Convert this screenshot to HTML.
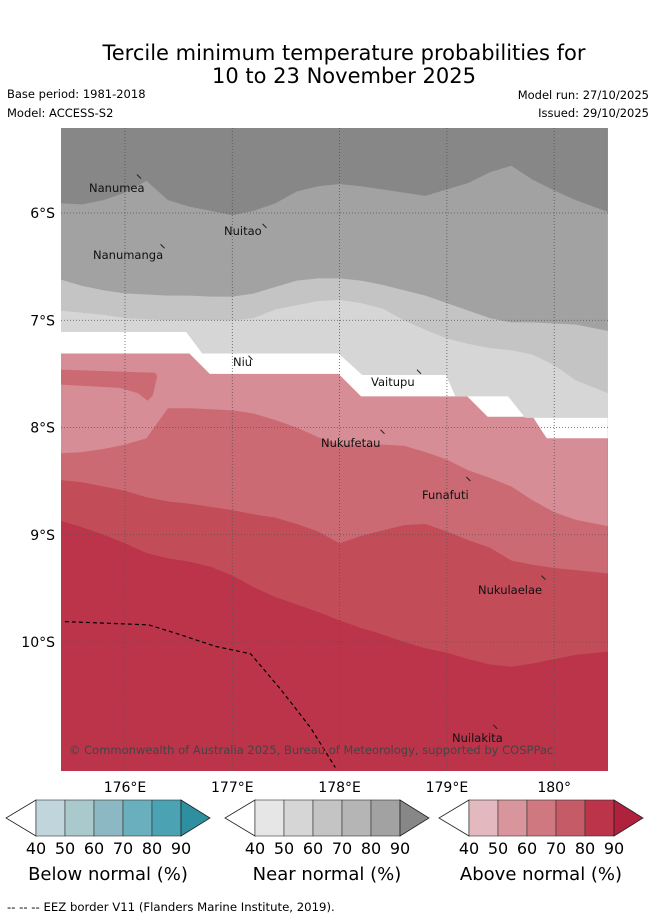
<!DOCTYPE html>
<html><head><meta charset="utf-8"><style>
body{margin:0;background:#fff;width:655px;height:919px;overflow:hidden;font-family:"DejaVu Sans","Liberation Sans",sans-serif}
svg{display:block;font-family:"DejaVu Sans","Liberation Sans",sans-serif}
</style></head><body>
<svg id="chart" width="655" height="919" xmlns="http://www.w3.org/2000/svg">
<text x="344" y="60" text-anchor="middle" font-size="21" fill="#000">Tercile minimum temperature probabilities for</text>
<text x="344" y="83" text-anchor="middle" font-size="21" fill="#000">10 to 23 November 2025</text>
<text x="7" y="98" font-size="11.5">Base period: 1981-2018</text>
<text x="7" y="117" font-size="11.5">Model: ACCESS-S2</text>
<text x="649" y="99" font-size="11.5" text-anchor="end">Model run: 27/10/2025</text>
<text x="649" y="117" font-size="11.5" text-anchor="end">Issued: 29/10/2025</text>
<defs><clipPath id="mapclip"><rect x="61" y="128" width="547" height="643"/></clipPath></defs>
<g id="map" clip-path="url(#mapclip)"></g>
<g id="axes"></g>
<g id="legends"></g>
<text x="7" y="911" font-size="11.7">--  --  -- EEZ border V11 (Flanders Marine Institute, 2019).</text>
</svg>
<script>
const lons=[175.4,175.6,175.8,176.0,176.2,176.4,176.6,176.8,177.0,177.2,177.4,177.6,177.8,178.0,178.2,178.4,178.6,178.8,179.0,179.2,179.4,179.6,179.8,180.0,180.2,180.5];
const nearB1=[5.91,5.92,5.88,5.81,5.70,5.88,5.94,5.98,6.02,5.98,5.91,5.80,5.75,5.73,5.75,5.78,5.81,5.84,5.78,5.72,5.62,5.56,5.69,5.79,5.88,5.99];
const nearB2=[6.62,6.68,6.72,6.75,6.76,6.77,6.77,6.78,6.78,6.75,6.69,6.63,6.61,6.61,6.63,6.67,6.72,6.77,6.84,6.91,6.98,7.02,7.02,7.03,7.04,7.10];
const nearB3=[6.91,6.93,6.95,6.98,6.99,7.00,7.00,7.00,7.00,6.98,6.90,6.86,6.82,6.81,6.84,6.89,7.00,7.09,7.17,7.22,7.26,7.28,7.32,7.42,7.56,7.68];
const maskTopLon=[175.40,176.57,176.72,177.99,178.21,178.99,179.08,179.57,179.73,180.50];
const maskTopLat=[7.11,7.11,7.31,7.31,7.51,7.51,7.71,7.71,7.91,7.91];
const maskBotLon=[175.40,176.60,176.79,177.99,178.20,179.19,179.38,179.80,179.93,180.50];
const maskBotLat=[7.31,7.31,7.50,7.50,7.71,7.71,7.90,7.90,8.10,8.10];
const aboveB2=[8.24,8.23,8.20,8.16,8.10,7.82,7.82,7.83,7.84,7.87,7.93,8.00,8.09,8.16,8.16,8.16,8.17,8.23,8.30,8.40,8.47,8.55,8.68,8.79,8.86,8.92];
const aboveB3=[8.49,8.51,8.55,8.59,8.65,8.69,8.71,8.74,8.77,8.81,8.84,8.90,8.97,9.08,9.01,8.96,8.91,8.90,8.97,9.05,9.12,9.24,9.28,9.31,9.33,9.36];
const aboveB4=[8.87,8.93,9.00,9.08,9.17,9.22,9.25,9.30,9.38,9.49,9.58,9.65,9.72,9.80,9.87,9.93,10.00,10.06,10.10,10.16,10.21,10.23,10.20,10.16,10.12,10.09];
const blobLon=[175.40,176.28,176.30,176.26,176.21,176.12,175.95,175.40];
const blobLat=[7.46,7.49,7.52,7.70,7.75,7.68,7.63,7.60];
const eezLon=[175.44,176.22,176.51,176.84,177.17,177.45,177.73,177.96];
const eezLat=[9.81,9.84,9.93,10.04,10.11,10.44,10.80,11.17];
const lonTicks=[176,177,178,179,180];
const lonTickLabels=["176°E","177°E","178°E","179°E","180°"];
const latTicks=[6,7,8,9,10];
const latTickLabels=["6°S","7°S","8°S","9°S","10°S"];
const islandNames=["Nanumea","Nuitao","Nanumanga","Niu","Vaitupu","Nukufetau","Funafuti","Nukulaelae","Nuilakita"];
const islandLon=[176.13,177.30,176.35,177.17,178.74,178.40,179.20,179.90,179.45];
const islandLat=[5.66,6.12,6.31,7.35,7.48,8.04,8.48,9.40,10.79];
const labelX=[89,224,93,233,371,321,422,478,452];
const labelY=[192,235,259,366,386,447,499,594,742];
const legendTitles=["Below normal (%)","Near normal (%)","Above normal (%)"];
const legendTicks=["40","50","60","70","80","90"];
const legendColors=[["#c0d6dc","#a9c9cd","#8bb8c3","#6aafbd","#4aa2b2","#2e8fa0"],["#e6e6e6","#d6d6d6","#c4c4c4","#b5b5b5","#a2a2a2","#878787"],["#e3b8be","#d8959c","#cf7880","#c55b67","#bb344a","#b0213d"]];

const NS="http://www.w3.org/2000/svg";
const X=lon=>125+(lon-176)*107.3;
const Y=lat=>213+(lat-6)*107.25;
function mk(tag,attrs,parent){const e=document.createElementNS(NS,tag);for(const k in attrs)e.setAttribute(k,attrs[k]);parent.appendChild(e);return e;}
const map=document.getElementById('map');
function topFill(lo,la,color,name){
  let d="M"+X(lo[0])+",120 ";
  lo.forEach((l,i)=>{d+="L"+X(l)+","+Y(la[i])+" ";});
  d+="L"+X(lo[lo.length-1])+",120 Z";
  const p=mk('path',{d:d,fill:color},map);
  
  
}
const bg=mk('rect',{x:61,y:128,width:547,height:643,fill:"#bb344a"},map);


topFill(lons,aboveB4,"#c24c58","above-70-80-band");
topFill(lons,aboveB3,"#cc6a74","above-60-70-band");
topFill(lons,aboveB2,"#d68d95","above-50-60-band");
{let d="";blobLon.forEach((l,i)=>{d+=(i?"L":"M")+X(l)+","+Y(blobLat[i])+" ";});
const b=mk('path',{d:d+"Z",fill:"#cc6a74"},map);

}
topFill(maskBotLon,maskBotLat,"#ffffff","no-dominant-band");
topFill(maskTopLon,maskTopLat,"#d6d6d6","near-50-60-band");
topFill(lons,nearB3,"#c4c4c4","near-60-70-band");
topFill(lons,nearB2,"#a2a2a2","near-70-80-band");
topFill(lons,nearB1,"#878787","near-80-90-band");
lonTicks.forEach(l=>{const g=mk('line',{x1:X(l),x2:X(l),y1:128,y2:771,stroke:"#555","stroke-width":0.8,"stroke-dasharray":"1,2"},map);

});
latTicks.forEach(l=>{const g=mk('line',{x1:61,x2:608,y1:Y(l),y2:Y(l),stroke:"#555","stroke-width":0.8,"stroke-dasharray":"1,2"},map);

});
{let d="";eezLon.forEach((l,i)=>{d+=(i?"L":"M")+X(l)+","+Y(eezLat[i])+" ";});
const e=mk('path',{d:d,fill:"none",stroke:"#000","stroke-width":1.2,"stroke-dasharray":"4,3"},map);

}
islandNames.forEach((n,i)=>{
  const m=mk('line',{x1:X(islandLon[i])-2,y1:Y(islandLat[i])-2,x2:X(islandLon[i])+2,y2:Y(islandLat[i])+2,stroke:"#222","stroke-width":1},map);
  
  
  const t=mk('text',{x:labelX[i],y:labelY[i],"font-size":11.5,fill:"#111"},map);
  t.textContent=n;
  
  
});
{const c=mk('text',{x:69,y:754,"font-size":11.5,fill:"#444"},map);
c.textContent="© Commonwealth of Australia 2025, Bureau of Meteorology, supported by COSPPac";

}
const axes=document.getElementById('axes');
lonTicks.forEach((l,i)=>{const t=mk('text',{x:X(l),y:792,"font-size":14,"text-anchor":"middle"},axes);t.textContent=lonTickLabels[i];

});
latTicks.forEach((l,i)=>{const t=mk('text',{x:55,y:Y(l)+5,"font-size":14,"text-anchor":"end"},axes);t.textContent=latTickLabels[i];

});
const lg=document.getElementById('legends');
const starts=[6,225,439];
starts.forEach((sx,k)=>{
  const g=mk('g',{},lg);
  
  
  const bx=sx+30,cw=29,y0=800,h=36;
  mk('polygon',{points:`${bx},${y0} ${sx},${y0+h/2} ${bx},${y0+h}`,fill:"#fff",stroke:"#222","stroke-width":0.8},g);
  for(let c=0;c<5;c++){mk('rect',{x:bx+c*cw,y:y0,width:cw,height:h,fill:legendColors[k][c],stroke:"#333","stroke-width":0.6},g);}
  const ex=bx+5*cw;
  mk('polygon',{points:`${ex},${y0} ${ex+29},${y0+h/2} ${ex},${y0+h}`,fill:legendColors[k][5],stroke:"#222","stroke-width":0.8},g);
  legendTicks.forEach((t,i)=>{const tx=mk('text',{x:bx+i*cw,y:854,"font-size":16,"text-anchor":"middle"},g);tx.textContent=t;});
  const tt=mk('text',{x:bx+72,y:880,"font-size":18,"text-anchor":"middle"},g);tt.textContent=legendTitles[k];
});
</script>
</body></html>
